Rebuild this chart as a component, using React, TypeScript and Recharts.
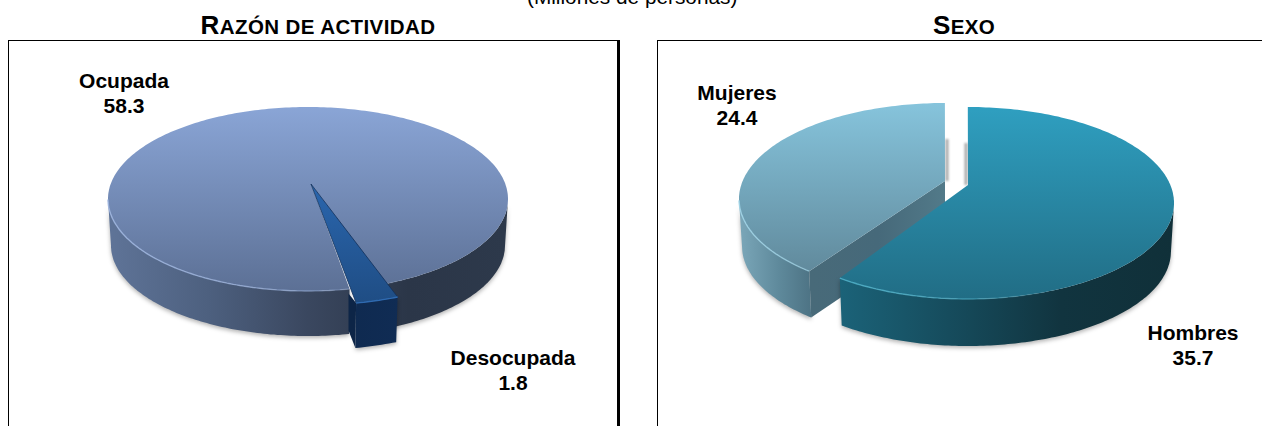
import React from 'react';
import { PieChart, Pie } from 'recharts';

const FONT = '"Liberation Sans", Arial, sans-serif';

// data
const actividadNames = ['Ocupada', 'Desocupada'];
const actividadValues = [58.3, 1.8];
const sexoNames = ['Mujeres', 'Hombres'];
const sexoValues = [24.4, 35.7];

const actividadData = actividadNames.map((name, i) => ({ name, value: actividadValues[i] }));
const sexoData = sexoNames.map((name, i) => ({ name, value: sexoValues[i] }));

type Style3d = {
  top: string;
  wall: string;
  rim: string;
  cut?: string;
  dx?: number;
  dy?: number;
  scale?: number;
  apexX: number;
  apexY: number;
  depth: number;
  ry: number;
  anchor?: number;
  warp?: number;
  sliver?: boolean;
  backShadow?: number[];
  labelX: number;
  labelY: number;
};

const styles: Record<string, Style3d> = {
  Ocupada: { top: 'topA', wall: 'wallA', rim: 'rimA', apexX: 3, apexY: -15, depth: 45, ry: 92, labelX: 124, labelY: 113 },
  Desocupada: { top: 'topB', wall: 'wallB', rim: '#2f6ab0', cut: '#0d2547', scale: 1.156, apexX: 3, apexY: -15, depth: 45, ry: 92, sliver: true, labelX: 513, labelY: 390 },
  Mujeres: { top: 'topC', wall: 'wallC', rim: 'rimC', cut: 'cutC', dx: -23, dy: -4, apexX: 0, apexY: -18, depth: 46, ry: 96, anchor: 90, warp: 0.949, backShadow: [0.5, -42, 3, 42], labelX: 105, labelY: 125 },
  Hombres: { top: 'topD', wall: 'wallD', rim: 'rimD', apexX: 0, apexY: -18, depth: 47, ry: 96, anchor: 90, warp: 1.022, backShadow: [-3.5, -42, 3, 42], labelX: 561, labelY: 365 },
};

const rad = (a: number) => (a * Math.PI) / 180;
const paint = (c: string) => (c.startsWith('#') ? c : `url(#${c})`);

function Slice3d(props: any) {
  const { cx, cy, outerRadius: rx, startAngle, endAngle, name } = props;
  const s = styles[name];
  const ox = cx + (s.dx ?? 0);
  const oy = cy + (s.dy ?? 0);
  const k = s.scale ?? 1;
  const warp = (a: number) => (s.anchor === undefined ? a : s.anchor + (a - s.anchor) * (s.warp ?? 1));
  const a0 = warp(startAngle);
  const a1 = warp(endAngle);

  const topPt = (a: number) => [ox + rx * k * Math.cos(rad(a)), oy - s.ry * k * Math.sin(rad(a))];
  const botPt = (a: number) => [
    ox + rx * k * 0.985 * Math.cos(rad(a)),
    oy + s.ry * k * 0.015 + s.depth - s.ry * k * 0.985 * Math.sin(rad(a)),
  ];
  const apex = [ox + s.apexX, oy + s.apexY];

  const steps = Math.max(2, Math.ceil(Math.abs(a1 - a0)));
  const angles = Array.from({ length: steps + 1 }, (_, i) => a0 + ((a1 - a0) * i) / steps);

  // parts of the rim that face the viewer
  const runs: number[][] = [];
  let run: number[] = [];
  angles.forEach((a) => {
    if (Math.sin(rad(a)) <= 0.001) run.push(a);
    else if (run.length) {
      runs.push(run);
      run = [];
    }
  });
  if (run.length) runs.push(run);

  const poly = (pts: number[][]) => 'M' + pts.map((p) => `${p[0].toFixed(1)},${p[1].toFixed(1)}`).join('L');
  const topPath = poly([apex, ...angles.map(topPt)]) + 'Z';

  const rimCut = topPt(a0);
  const botCut = botPt(a0);
  let cutPath: string | null = null;
  if (s.sliver) {
    const t = 0.92;
    const from = [apex[0] + (rimCut[0] - apex[0]) * t, apex[1] + (rimCut[1] - apex[1]) * t];
    cutPath = poly([[from[0] - 4, from[1]], rimCut, botCut, [from[0] - 4, from[1] + 37]]) + 'Z';
  } else if (s.cut) {
    cutPath = poly([apex, rimCut, botCut, [apex[0], apex[1] + s.depth]]) + 'Z';
  }

  return (
    <g>
      {s.backShadow && (
        <rect
          x={apex[0] + s.backShadow[0]}
          y={apex[1] + s.backShadow[1]}
          width={s.backShadow[2]}
          height={s.backShadow[3]}
          fill="#a8a8a8"
          style={{ filter: 'blur(1px)' }}
        />
      )}
      {runs.map((r, i) => (
        <path
          key={i}
          d={poly([...r.map(topPt), ...[...r].reverse().map(botPt)]) + 'Z'}
          fill={`url(#${s.wall})`}
          style={{ filter: 'drop-shadow(0 2px 2px rgba(0,0,0,0.3))' }}
        />
      ))}
      {cutPath && <path d={cutPath} fill={paint(s.cut!)} />}
      <path d={topPath} fill={`url(#${s.top})`} stroke={s.sliver ? '#12305a' : 'none'} strokeWidth={s.sliver ? 0.8 : 0} />
      {runs.map((r, i) => (
        <path key={'rim' + i} d={poly(r.map(topPt))} fill="none" stroke={paint(s.rim)} strokeWidth={1.4} />
      ))}
    </g>
  );
}

function SliceLabel(props: any) {
  const { name, value } = props;
  const s = styles[name];
  return (
    <text textAnchor="middle" fontFamily={FONT} fontSize={21} fontWeight="bold" fill="#000">
      <tspan x={s.labelX} y={s.labelY - 25}>{name}</tspan>
      <tspan x={s.labelX} y={s.labelY}>{value.toFixed(1)}</tspan>
    </text>
  );
}

const Vert = ({ id, from, to, y1, y2 }: any) => (
  <linearGradient id={id} gradientUnits="userSpaceOnUse" x1="0" x2="0" y1={y1} y2={y2}>
    <stop offset="0" stopColor={from} />
    <stop offset="1" stopColor={to} />
  </linearGradient>
);

const Horiz = ({ id, stops, x1, x2 }: any) => (
  <linearGradient id={id} gradientUnits="userSpaceOnUse" x1={x1} x2={x2} y1="0" y2="0">
    {stops.map((c: string, i: number) => (
      <stop key={i} offset={i / (stops.length - 1)} stopColor={c} />
    ))}
  </linearGradient>
);

// bright on the left of the rim, gone by the right
const RimFade = ({ id, color, x1, x2 }: any) => (
  <linearGradient id={id} gradientUnits="userSpaceOnUse" x1={x1} x2={x2} y1="0" y2="0">
    <stop offset="0" stopColor={color} stopOpacity={0.9} />
    <stop offset="0.6" stopColor={color} stopOpacity={0.6} />
    <stop offset="1" stopColor={color} stopOpacity={0} />
  </linearGradient>
);

const titleStyle: React.CSSProperties = {
  position: 'absolute',
  fontFamily: FONT,
  fontWeight: 'bold',
  fontSize: 20.5,
  letterSpacing: 0.4,
  lineHeight: '24px',
  textAlign: 'center',
  textTransform: 'uppercase',
  color: '#000',
  whiteSpace: 'nowrap',
};

export default function App() {
  return (
    <div style={{ position: 'absolute', left: 0, top: 0, width: 1262, height: 426, overflow: 'hidden', background: '#fff' }}>
      <div style={{ position: 'absolute', left: 527, top: -14, fontFamily: FONT, fontSize: 20.8, lineHeight: '22px', color: '#000', whiteSpace: 'nowrap' }}>
        (Millones de personas)
      </div>
      <div style={{ ...titleStyle, left: 118, top: 13, width: 400 }}><span style={{ fontSize: 26 }}>R</span>azón de actividad</div>
      <div style={{ ...titleStyle, left: 764, top: 13, width: 400 }}><span style={{ fontSize: 26 }}>S</span>exo</div>

      <div style={{ position: 'absolute', left: 8, top: 40, width: 608, height: 400, borderLeft: '1px solid #000', borderTop: '1px solid #000', borderRight: '3px solid #000' }} />
      <div style={{ position: 'absolute', left: 657, top: 40, width: 620, height: 400, borderLeft: '1px solid #000', borderTop: '1px solid #000' }} />

      <div style={{ position: 'absolute', left: 0, top: 0 }}>
        <PieChart width={630} height={426} margin={{ top: 0, right: 0, bottom: 0, left: 0 }}>
          <defs>
            <Vert id="topA" from="#8aa5d6" to="#5c7095" y1={107} y2={291} />
            <Vert id="topB" from="#2a66ae" to="#1f4d84" y1={184} y2={303} />
            <Horiz id="wallA" x1={108} x2={508} stops={['#5f7498', '#4d607f', '#3a475f', '#2b3648', '#2d394b']} />
            <Horiz id="wallB" x1={349} x2={400} stops={['#0f2a50', '#102c54']} />
            <RimFade id="rimA" color="#9db4de" x1={108} x2={420} />
          </defs>
          <Pie
            data={actividadData}
            dataKey="value"
            nameKey="name"
            cx={308}
            cy={199}
            outerRadius={200}
            startAngle={-67.2}
            endAngle={292.8}
            stroke="none"
            shape={Slice3d}
            label={SliceLabel}
            labelLine={false}
            isAnimationActive={false}
          />
        </PieChart>
      </div>

      <div style={{ position: 'absolute', left: 632, top: 0 }}>
        <PieChart width={630} height={426} margin={{ top: 0, right: 0, bottom: 0, left: 0 }}>
          <defs>
            <Vert id="topC" from="#86c4dc" to="#5f8799" y1={103} y2={280} />
            <Vert id="topD" from="#2f9fc0" to="#216d85" y1={107} y2={299} />
            <Horiz id="wallC" x1={107} x2={185} stops={['#7ba7b9', '#5f8a9c', '#4a6f80']} />
            <Horiz id="wallD" x1={205} x2={542} stops={['#1b6379', '#164c5d', '#11343f', '#103039']} />
            <Horiz id="cutC" x1={180} x2={313} stops={['#486a79', '#46697a', '#527a89']} />
            <RimFade id="rimC" color="#9fd3e6" x1={107} x2={240} />
            <RimFade id="rimD" color="#4fb0c8" x1={208} x2={420} />
          </defs>
          <Pie
            data={sexoData}
            dataKey="value"
            nameKey="name"
            cx={336}
            cy={203}
            outerRadius={206}
            startAngle={236.2}
            endAngle={-123.8}
            stroke="none"
            shape={Slice3d}
            label={SliceLabel}
            labelLine={false}
            isAnimationActive={false}
          />
        </PieChart>
      </div>
    </div>
  );
}
